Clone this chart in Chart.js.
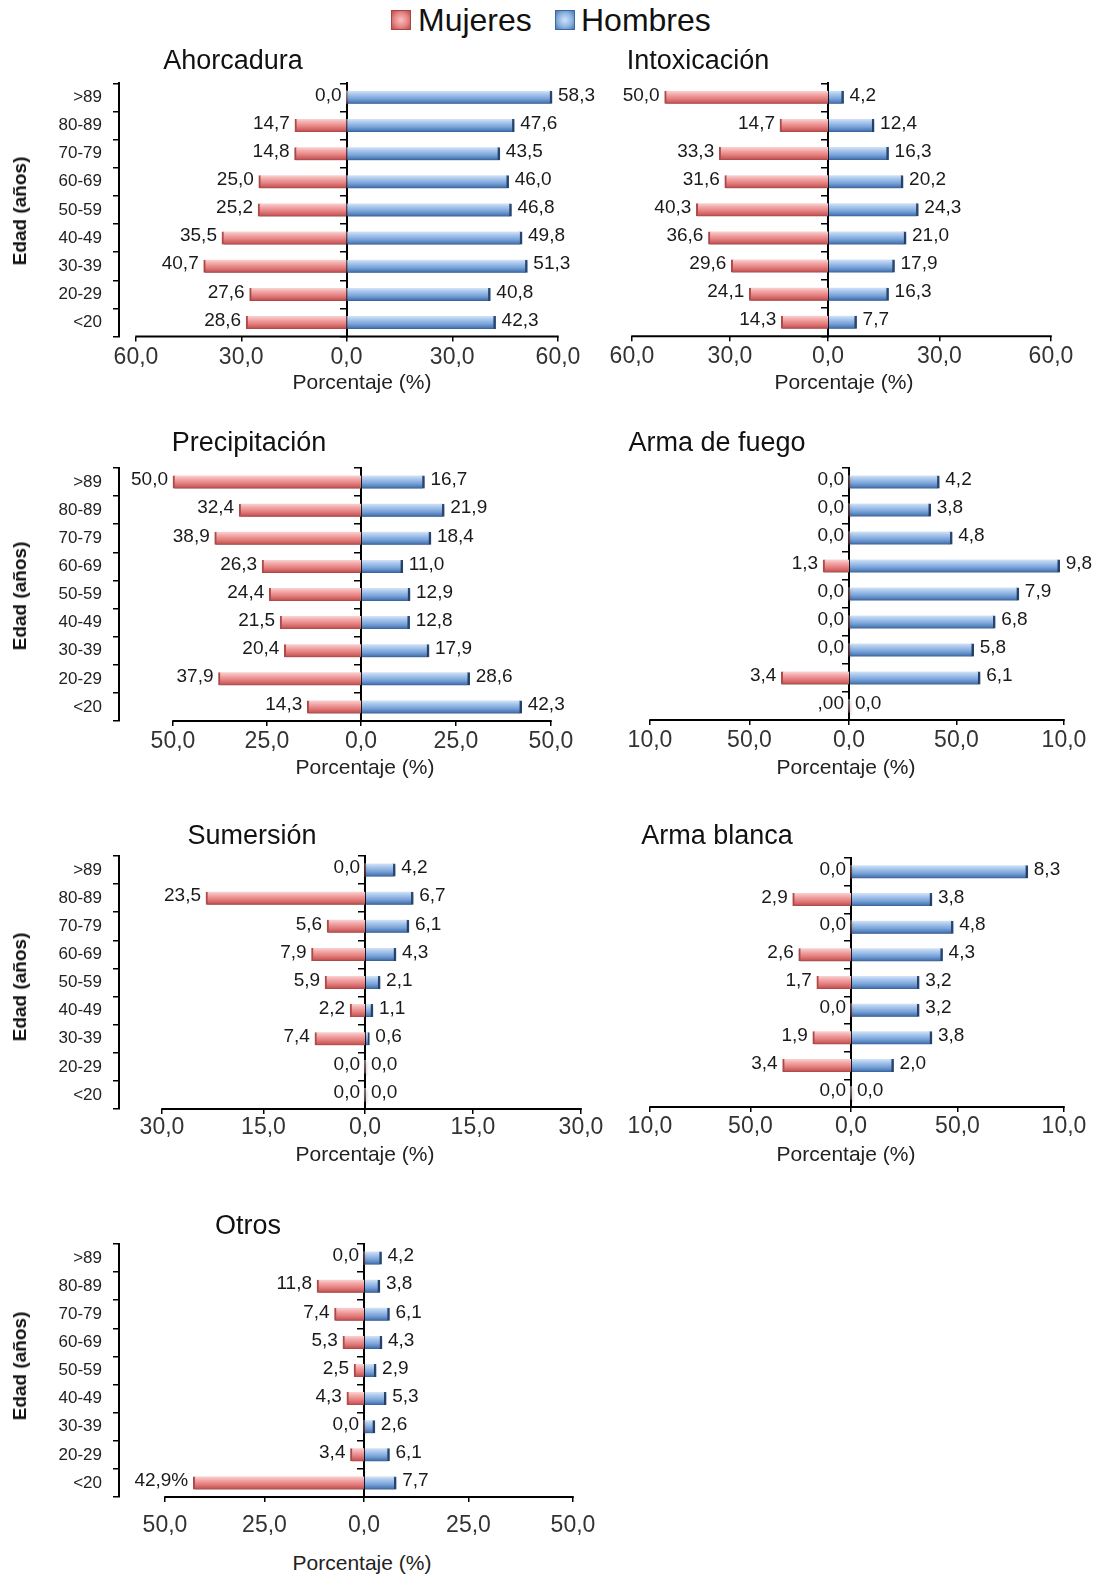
<!DOCTYPE html>
<html lang="es">
<head>
<meta charset="utf-8">
<title>Porcentaje por edad y sexo según método</title>
<script src="https://cdn.jsdelivr.net/npm/chart.js@4.4.1/dist/chart.umd.min.js"></script>
<style>
  html, body { margin: 0; padding: 0; background: #fff; }
  body { width: 1100px; height: 1575px; position: relative; overflow: hidden;
         font-family: "Liberation Sans", Arial, sans-serif; color: #111; }
  canvas { position: absolute; }
  .txt { position: absolute; transform: translate(-50%, -50%); white-space: nowrap; }
  .titulo { font-size: 27px; color: #111; }
  .eje-x { font-size: 21px; color: #222; }
  .eje-y { font-size: 19px; font-weight: bold; color: #111;
           transform: translate(-50%, -50%) rotate(-90deg); }
  .ley-txt { position: absolute; font-size: 32px; color: #111; transform: translateY(-50%); white-space: nowrap; }
  .cuadro { position: absolute; width: 20px; height: 20px; box-sizing: border-box; }
  .cuadro.rojo { background: radial-gradient(circle, #f6c0c0 0%, #e68585 55%, #b94c4c 100%); border: 1px solid #a84444; }
  .cuadro.azul { background: radial-gradient(circle, #cfe2f7 0%, #8db4e2 55%, #4a78b3 100%); border: 1px solid #3f689d; }
</style>
</head>
<body>

<div class="cuadro rojo" style="left:391px; top:10px;"></div>
<div class="ley-txt" style="left:418px; top:20px;">Mujeres</div>
<div class="cuadro azul" style="left:555px; top:10px;"></div>
<div class="ley-txt" style="left:581px; top:20px;">Hombres</div>

<script>
// grupos de edad (de arriba hacia abajo)
const edades = [">89", "80-89", "70-79", "60-69", "50-59", "40-49", "30-39", "20-29", "<20"];

// porcentajes por método
const ahorcaduraMujeres = [0.0, 14.7, 14.8, 25.0, 25.2, 35.5, 40.7, 27.6, 28.6];
const ahorcaduraHombres = [58.3, 47.6, 43.5, 46.0, 46.8, 49.8, 51.3, 40.8, 42.3];

const intoxicacionMujeres = [50.0, 14.7, 33.3, 31.6, 40.3, 36.6, 29.6, 24.1, 14.3];
const intoxicacionHombres = [4.2, 12.4, 16.3, 20.2, 24.3, 21.0, 17.9, 16.3, 7.7];

const precipitacionMujeres = [50.0, 32.4, 38.9, 26.3, 24.4, 21.5, 20.4, 37.9, 14.3];
const precipitacionHombres = [16.7, 21.9, 18.4, 11.0, 12.9, 12.8, 17.9, 28.6, 42.3];

const armaFuegoMujeres = [0.0, 0.0, 0.0, 1.3, 0.0, 0.0, 0.0, 3.4, 0.0];
const armaFuegoHombres = [4.2, 3.8, 4.8, 9.8, 7.9, 6.8, 5.8, 6.1, 0.0];

const sumersionMujeres = [0.0, 23.5, 5.6, 7.9, 5.9, 2.2, 7.4, 0.0, 0.0];
const sumersionHombres = [4.2, 6.7, 6.1, 4.3, 2.1, 1.1, 0.6, 0.0, 0.0];

const armaBlancaMujeres = [0.0, 2.9, 0.0, 2.6, 1.7, 0.0, 1.9, 3.4, 0.0];
const armaBlancaHombres = [8.3, 3.8, 4.8, 4.3, 3.2, 3.2, 3.8, 2.0, 0.0];

const otrosMujeres = [0.0, 11.8, 7.4, 5.3, 2.5, 4.3, 0.0, 3.4, 42.9];
const otrosHombres = [4.2, 3.8, 6.1, 4.3, 2.9, 5.3, 2.6, 6.1, 7.7];

// etiquetas del eje x (tal como aparecen en el original)
const ticks60 = ["60,0", "30,0", "0,0", "30,0", "60,0"];
const ticks50 = ["50,0", "25,0", "0,0", "25,0", "50,0"];
const ticks30 = ["30,0", "15,0", "0,0", "15,0", "30,0"];
const ticks10 = ["10,0", "50,0", "0,0", "50,0", "10,0"];

// etiquetas de valor que no siguen el formato general
const armaFuegoTextoMujeres = { 8: ",00" };
const otrosTextoMujeres = { 8: "42,9%" };

const FUENTE = '"Liberation Sans", Arial, sans-serif';
const BAR_H = 13;
const X_AXIS_H = 50;
const PAD_TOP = 24;

// caja: cx/cw = canvas, T/Bot = área vertical, L = borde izq., A = -max, Z = cero, B = +max
const paneles = [
    { titulo: "Ahorcadura", mujeres: ahorcaduraMujeres, hombres: ahorcaduraHombres, max: 60, ticks: ticks60,
      caja: { cx: 0, cw: 610, T: 83.3, Bot: 336.6, L: 119, A: 136, Z: 346.5, B: 558 }, tickPad: 2,
      tituloPos: [233, 60], ejePos: [362, 382], edadY: 211, izquierda: true },
    { titulo: "Intoxicación", mujeres: intoxicacionMujeres, hombres: intoxicacionHombres, max: 60, ticks: ticks60,
      caja: { cx: 600, cw: 500, T: 83.3, Bot: 336.3, L: 632, A: 632, Z: 828, B: 1051 }, tickPad: 2,
      tituloPos: [698, 60], ejePos: [844, 382], izquierda: false },
    { titulo: "Precipitación", mujeres: precipitacionMujeres, hombres: precipitacionHombres, max: 50, ticks: ticks50,
      caja: { cx: 0, cw: 610, T: 468, Bot: 721, L: 119, A: 173, Z: 361, B: 551 }, tickPad: 2,
      tituloPos: [249, 442], ejePos: [365, 767], edadY: 596, izquierda: true },
    { titulo: "Arma de fuego", mujeres: armaFuegoMujeres, hombres: armaFuegoHombres, max: 10, ticks: ticks10,
      caja: { cx: 600, cw: 500, T: 468, Bot: 720, L: 650, A: 650, Z: 849, B: 1064 }, tickPad: 2,
      tituloPos: [717, 442], ejePos: [846, 767], izquierda: false, textoMujeres: armaFuegoTextoMujeres },
    { titulo: "Sumersión", mujeres: sumersionMujeres, hombres: sumersionHombres, max: 30, ticks: ticks30,
      caja: { cx: 0, cw: 610, T: 856, Bot: 1109, L: 119, A: 162, Z: 365, B: 581 }, tickPad: 0,
      tituloPos: [252, 835], ejePos: [365, 1154], edadY: 987, izquierda: true },
    { titulo: "Arma blanca", mujeres: armaBlancaMujeres, hombres: armaBlancaHombres, max: 10, ticks: ticks10,
      caja: { cx: 600, cw: 500, T: 858, Bot: 1107, L: 650, A: 650, Z: 851, B: 1064 }, tickPad: 1,
      tituloPos: [717, 835], ejePos: [846, 1154], izquierda: false },
    { titulo: "Otros", mujeres: otrosMujeres, hombres: otrosHombres, max: 50, ticks: ticks50,
      caja: { cx: 0, cw: 610, T: 1244, Bot: 1497, L: 119, A: 165, Z: 364, B: 573 }, tickPad: 10,
      tituloPos: [248, 1225], ejePos: [362, 1563], edadY: 1366, izquierda: true, textoMujeres: otrosTextoMujeres }
];

const coloresRojo = ["#fbd3d3", "#f2a5a5", "#e47f7f", "#cd5f5f", "#a84444"];
const coloresAzul = ["#d3e4f7", "#a3c3eb", "#7ba4d9", "#5380bc", "#365f96"];

// degradado vertical para cada barra (efecto cilindro)
function rellenoBarra(colores) {
    return (c) => {
        const chart = c.chart;
        const y = chart.scales.y;
        if (!y || c.dataIndex === undefined || !chart.chartArea) return colores[2];
        const yc = y.getPixelForValue(c.dataIndex);
        const g = chart.ctx.createLinearGradient(0, yc - BAR_H / 2, 0, yc + BAR_H / 2);
        g.addColorStop(0, colores[0]);
        g.addColorStop(0.3, colores[1]);
        g.addColorStop(0.6, colores[2]);
        g.addColorStop(0.85, colores[3]);
        g.addColorStop(1, colores[4]);
        return g;
    };
}

function formato(v) {
    return Math.abs(v).toFixed(1).replace(".", ",");
}

// sombra suave bajo las barras
const sombraBarras = {
    id: "sombraBarras",
    beforeDatasetsDraw(chart) {
        const ctx = chart.ctx;
        ctx.save();
        ctx.shadowColor = "rgba(0, 0, 0, 0.28)";
        ctx.shadowBlur = 3;
        ctx.shadowOffsetX = 1;
        ctx.shadowOffsetY = 2;
    },
    afterDatasetsDraw(chart) {
        chart.ctx.restore();
    }
};

// etiquetas de valor al final de cada barra
const etiquetasValor = {
    id: "etiquetasValor",
    afterDatasetsDraw(chart, args, opts) {
        const ctx = chart.ctx;
        ctx.save();
        ctx.font = "19px " + FUENTE;
        ctx.fillStyle = "#1a1a1a";
        ctx.textBaseline = "middle";
        chart.data.datasets.forEach((ds, di) => {
            const meta = chart.getDatasetMeta(di);
            const esMujer = di === 0;
            meta.data.forEach((bar, i) => {
                let txt = formato(ds.data[i]);
                if (esMujer && opts.textoMujeres && opts.textoMujeres[i]) txt = opts.textoMujeres[i];
                ctx.textAlign = esMujer ? "right" : "left";
                ctx.fillText(txt, esMujer ? bar.x - 5 : bar.x + 6, bar.y - 2);
            });
        });
        ctx.restore();
    }
};

// línea del eje x, sólo entre el primer y el último tick
const lineaEjeX = {
    id: "lineaEjeX",
    afterDraw(chart) {
        const x = chart.scales.x;
        const ctx = chart.ctx;
        const yb = chart.chartArea.bottom;
        ctx.save();
        ctx.strokeStyle = "#000";
        ctx.lineWidth = 2;
        ctx.beginPath();
        ctx.moveTo(x.getPixelForValue(x.ticks[0].value) - 0.75, yb);
        ctx.lineTo(x.getPixelForValue(x.ticks[x.ticks.length - 1].value) + 0.75, yb);
        ctx.stroke();
        ctx.restore();
    }
};

function addTexto(cls, txt, x, y) {
    const d = document.createElement("div");
    d.className = "txt " + cls;
    d.textContent = txt;
    d.style.left = x + "px";
    d.style.top = y + "px";
    document.body.appendChild(d);
}

function crearPanel(p) {
    const k = p.caja;
    const cy = Math.round(k.T - PAD_TOP);
    const h = Math.ceil(k.Bot - cy + X_AXIS_H);

    const canvas = document.createElement("canvas");
    canvas.width = k.cw;
    canvas.height = h;
    canvas.style.left = k.cx + "px";
    canvas.style.top = cy + "px";
    document.body.appendChild(canvas);

    // escalas: cada mitad tiene su propio factor, como en el original
    const pxH = (k.B - k.Z) / p.max;
    const pxM = (k.Z - k.A) / p.max;
    const negTick = (k.Z - k.A) / pxH;
    const valoresTick = [-negTick, -negTick / 2, 0, p.max / 2, p.max];

    new Chart(canvas, {
        type: "bar",
        data: {
            labels: edades,
            datasets: [
                {
                    label: "Mujeres",
                    data: p.mujeres.map(v => -v),
                    xAxisID: "xw",
                    yAxisID: "y",
                    backgroundColor: rellenoBarra(coloresRojo),
                    borderColor: "#b04a4a",
                    borderWidth: { left: 2, right: 0, top: 0, bottom: 0 },
                    borderSkipped: "start",
                    barThickness: BAR_H,
                    grouped: false
                },
                {
                    label: "Hombres",
                    data: p.hombres,
                    xAxisID: "x",
                    yAxisID: "y",
                    backgroundColor: rellenoBarra(coloresAzul),
                    borderColor: "#2a4b7a",
                    borderWidth: { left: 0, right: 2.5, top: 0, bottom: 0 },
                    borderSkipped: "start",
                    barThickness: BAR_H,
                    grouped: false
                }
            ]
        },
        options: {
            indexAxis: "y",
            responsive: false,
            animation: false,
            layout: {
                padding: {
                    top: k.T - cy,
                    bottom: h - (k.Bot - cy) - X_AXIS_H,
                    left: p.izquierda ? 0 : k.A - k.cx,
                    right: k.cx + k.cw - k.B
                }
            },
            scales: {
                x: {
                    type: "linear",
                    position: "bottom",
                    min: -(k.Z - k.L) / pxH,
                    max: (k.B - k.Z) / pxH,
                    afterBuildTicks: s => { s.ticks = valoresTick.map(v => ({ value: v })); },
                    afterFit: s => { s.height = X_AXIS_H; },
                    border: { display: false },
                    grid: { drawOnChartArea: false, tickLength: 5, color: "#000", lineWidth: 1.5 },
                    ticks: {
                        callback: (v, i) => p.ticks[i],
                        font: { size: 23, family: FUENTE },
                        color: "#333",
                        padding: p.tickPad,
                        maxRotation: 0,
                        autoSkip: false
                    }
                },
                xw: {
                    type: "linear",
                    display: false,
                    min: -(k.Z - k.L) / pxM,
                    max: (k.B - k.Z) / pxM
                },
                y: {
                    type: "category",
                    position: "left",
                    display: p.izquierda,
                    offset: true,
                    afterFit: s => { if (p.izquierda) s.width = k.L - k.cx; },
                    border: { display: true, color: "#000", width: 2 },
                    grid: { offset: true, drawOnChartArea: false, tickLength: 6, color: "#000", lineWidth: 1.5 },
                    ticks: { font: { size: 17, family: FUENTE }, color: "#222", padding: 11 }
                },
                yz: {
                    type: "category",
                    position: { x: 0 },
                    offset: true,
                    border: { display: true, color: "#000", width: 2 },
                    grid: { offset: true, drawOnChartArea: false, tickLength: 6, color: "#000", lineWidth: 1.5 },
                    ticks: { display: false }
                }
            },
            plugins: {
                legend: { display: false },
                tooltip: { enabled: false },
                etiquetasValor: { textoMujeres: p.textoMujeres || null }
            }
        },
        plugins: [sombraBarras, etiquetasValor, lineaEjeX]
    });

    addTexto("titulo", p.titulo, p.tituloPos[0], p.tituloPos[1]);
    addTexto("eje-x", "Porcentaje (%)", p.ejePos[0], p.ejePos[1]);
    if (p.izquierda) addTexto("eje-y", "Edad (años)", 20, p.edadY);
}

paneles.forEach(crearPanel);
</script>
</body>
</html>
